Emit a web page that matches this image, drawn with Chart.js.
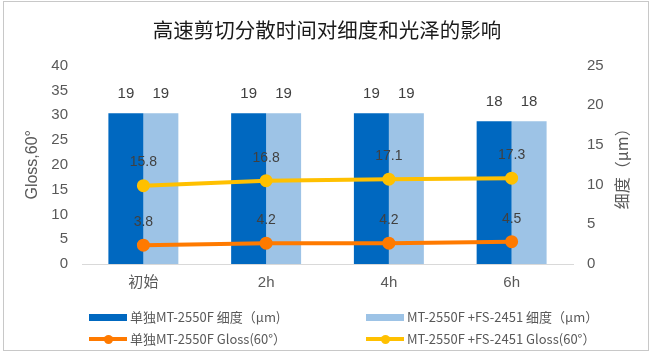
<!DOCTYPE html>
<html>
<head>
<meta charset="utf-8">
<script src="https://cdn.jsdelivr.net/npm/chart.js@4.4.1/dist/chart.umd.min.js"></script>
<style>
  html, body { margin: 0; padding: 0; background: #fff; }
  #wrap { position: relative; width: 654px; height: 357px; overflow: hidden; }
  #frame { position: absolute; left: 3px; top: 1px; width: 646px; height: 350px; border: 1px solid #C8C8C8; box-sizing: border-box; pointer-events: none; }
  canvas { position: absolute; left: 0; top: 0; }
  .lg { position: absolute; font-family: "Noto Sans CJK SC", "Liberation Sans", sans-serif; font-size: 13px; color: #595959; white-space: nowrap; line-height: 16px; }
  .sw { position: absolute; }
</style>
</head>
<body>
<div id="wrap">
  <canvas id="c" width="654" height="357"></canvas>
  <div id="frame"></div>
  <div id="legend"></div>
</div>
<script>
const categories = ['初始', '2h', '4h', '6h'];
const fineAlone = [19, 19, 19, 18];
const fineMix = [19, 19, 19, 18];
const glossAlone = [3.8, 4.2, 4.2, 4.5];
const glossMix = [15.8, 16.8, 17.1, 17.3];
const leftTicks = [0, 5, 10, 15, 20, 25, 30, 35, 40];
const rightTicks = [0, 5, 10, 15, 20, 25];
const seriesNames = ['单独MT-2550F 细度（μm)', 'MT-2550F +FS-2451 细度（μm）', '单独MT-2550F Gloss(60°）', 'MT-2550F +FS-2451 Gloss(60°）'];
const colors = ['#0068C0', '#9DC3E6', '#FF7A00', '#FFC000'];

const FONT = '"Liberation Sans", "Noto Sans CJK SC", sans-serif';

const labelPlugin = {
  id: 'valueLabels',
  afterDatasetsDraw(chart) {
    const ctx = chart.ctx;
    ctx.save();
    ctx.fillStyle = '#404040';
    ctx.textAlign = 'center';
    ctx.textBaseline = 'middle';
    chart.data.datasets.forEach((ds, i) => {
      const meta = chart.getDatasetMeta(i);
      const isBar = ds.type === 'bar';
      ctx.font = (isBar ? '15px ' : '14px ') + FONT;
      meta.data.forEach((el, j) => {
        const off = isBar ? 19 : 23;
        ctx.fillText(String(ds.data[j]), el.x, el.y - off);
      });
    });
    ctx.restore();
  }
};

const rightTitlePlugin = {
  id: 'rightTitle',
  afterDraw(chart) {
    const ctx = chart.ctx;
    const a = chart.chartArea;
    ctx.save();
    ctx.translate(622, (a.top + a.bottom) / 2);
    ctx.rotate(-Math.PI / 2);
    ctx.font = '16px "Noto Sans CJK SC", sans-serif';
    ctx.fillStyle = '#595959';
    ctx.textAlign = 'center';
    ctx.textBaseline = 'middle';
    ctx.fillText('细度（μm）', 0, 0);
    ctx.restore();
  }
};

new Chart(document.getElementById('c'), {
  data: {
    labels: categories,
    datasets: [
      { type: 'bar', label: seriesNames[0], data: fineAlone, backgroundColor: colors[0], yAxisID: 'y1', order: 2, categoryPercentage: 0.57, barPercentage: 1.0 },
      { type: 'bar', label: seriesNames[1], data: fineMix, backgroundColor: colors[1], yAxisID: 'y1', order: 2, categoryPercentage: 0.57, barPercentage: 1.0 },
      { type: 'line', label: seriesNames[2], data: glossAlone, borderColor: colors[2], backgroundColor: colors[2], borderWidth: 4, pointRadius: 4.5, pointBackgroundColor: colors[2], pointBorderColor: colors[2], yAxisID: 'y', order: 1, tension: 0 },
      { type: 'line', label: seriesNames[3], data: glossMix, borderColor: colors[3], backgroundColor: colors[3], borderWidth: 4, pointRadius: 4.5, pointBackgroundColor: colors[3], pointBorderColor: colors[3], yAxisID: 'y', order: 1, tension: 0 }
    ]
  },
  options: {
    responsive: false,
    animation: false,
    devicePixelRatio: 1,
    layout: { padding: { left: 0, right: 0, top: 0, bottom: 63 } },
    plugins: {
      legend: { display: false },
      tooltip: { enabled: false },
      title: {
        display: true,
        text: '高速剪切分散时间对细度和光泽的影响',
        color: '#1A1A1A',
        font: { family: '"Noto Sans CJK SC", sans-serif', size: 20.5, weight: 'normal', lineHeight: 1.2 },
        padding: { top: 18, bottom: 23 }
      }
    },
    scales: {
      x: {
        grid: { display: false, drawTicks: false },
        border: { display: true, color: '#D9D9D9', width: 1 },
        ticks: { color: '#595959', font: { family: FONT, size: 15 }, padding: 10 },
        afterFit(s) { s.height = 30; }
      },
      y: {
        position: 'left',
        min: 0, max: 40,
        afterBuildTicks(s) { s.ticks = leftTicks.map(v => ({ value: v })); },
        grid: { display: false, drawTicks: false },
        border: { display: false },
        ticks: { color: '#595959', font: { family: FONT, size: 15 }, padding: 14 },
        title: { display: true, text: 'Gloss,60°', color: '#595959', font: { family: FONT, size: 16 }, padding: { top: 23, bottom: 0 } },
        afterFit(s) { s.width = 82; }
      },
      y1: {
        position: 'right',
        min: 0, max: 25,
        afterBuildTicks(s) { s.ticks = rightTicks.map(v => ({ value: v })); },
        grid: { display: false, drawTicks: false },
        border: { display: false },
        ticks: { color: '#595959', font: { family: FONT, size: 15 }, padding: 14 },
        afterFit(s) { s.width = 81; }
      }
    }
  },
  plugins: [labelPlugin, rightTitlePlugin]
});

// HTML legend built from the series names / colours
const legend = document.getElementById('legend');
const pos = [
  { x: 89, y: 317, tx: 130, kind: 'bar' },
  { x: 366, y: 317, tx: 407, kind: 'bar' },
  { x: 89, y: 339, tx: 130, kind: 'line' },
  { x: 366, y: 339, tx: 407, kind: 'line' }
];
seriesNames.forEach((name, i) => {
  const p = pos[i];
  const sw = document.createElement('div');
  sw.className = 'sw';
  if (p.kind === 'bar') {
    sw.style.cssText = `left:${p.x}px;top:${p.y - 3.5}px;width:38px;height:7px;background:${colors[i]};`;
  } else {
    sw.style.cssText = `left:${p.x}px;top:${p.y - 2}px;width:38px;height:4px;background:${colors[i]};`;
    const dot = document.createElement('div');
    dot.className = 'sw';
    dot.style.cssText = `left:${p.x + 15}px;top:${p.y - 4.5}px;width:9px;height:9px;border-radius:50%;background:${colors[i]};`;
    legend.appendChild(dot);
  }
  legend.appendChild(sw);
  const t = document.createElement('div');
  t.className = 'lg';
  t.style.left = p.tx + 'px';
  t.style.top = (p.y - 8) + 'px';
  t.textContent = name;
  legend.appendChild(t);
});
</script>
</body>
</html>
